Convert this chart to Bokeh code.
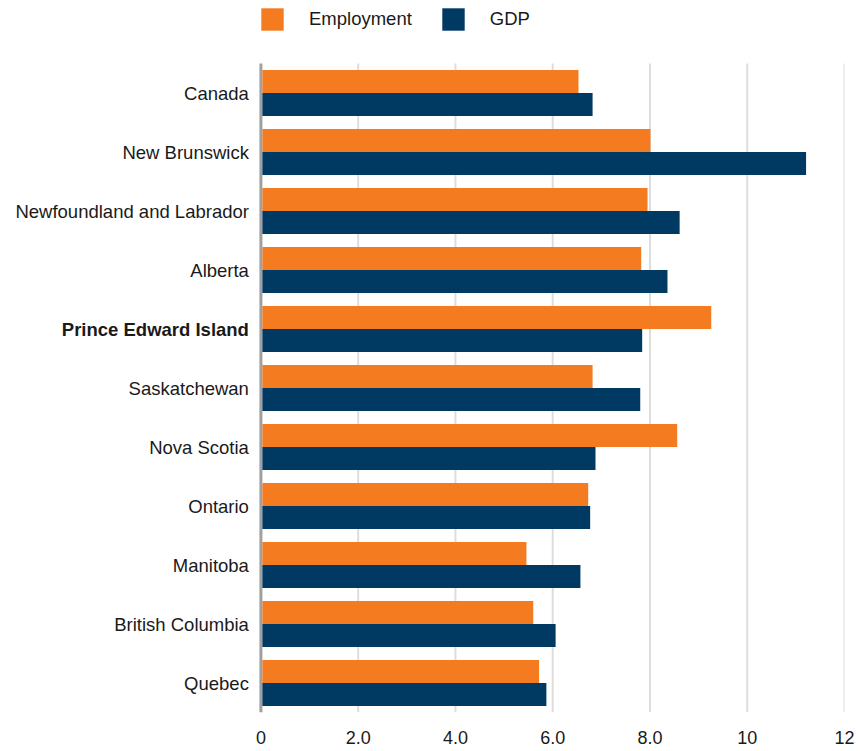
from bokeh.plotting import figure
from bokeh.models import (ColumnDataSource, FactorRange, Range1d, FixedTicker,
                          Legend, LegendItem)
from bokeh.transform import dodge
from bokeh.embed import file_html
from bokeh.resources import INLINE

regions = ["Canada", "New Brunswick", "Newfoundland and Labrador", "Alberta",
           "Prince Edward Island", "Saskatchewan", "Nova Scotia", "Ontario",
           "Manitoba", "British Columbia", "Quebec"]
employment = [6.53, 8.01, 7.95, 7.82, 9.26, 6.82, 8.56, 6.73, 5.46, 5.60, 5.72]
gdp = [6.82, 11.21, 8.61, 8.36, 7.84, 7.80, 6.88, 6.77, 6.57, 6.06, 5.87]
styles = ["bold" if r == "Prince Edward Island" else "normal" for r in regions]
x_ticks = [0, 2, 4, 6, 8, 10, 12]
x_tick_labels = ["0", "2.0", "4.0", "6.0", "8.0", "10", "12"]

ORANGE = "#F47B20"
NAVY = "#003A63"
FONT = "Liberation Sans"
LEGEND_ROW = " "   # empty band above the categories that holds the legend

src = ColumnDataSource(dict(region=regions, emp=employment, gdp=gdp,
                            zero=[0] * len(regions), style=styles))

factors = list(reversed(regions)) + [LEGEND_ROW]
p = figure(width=858, height=751, output_backend="svg", toolbar_location=None,
           y_range=FactorRange(factors=factors, range_padding=0),
           x_range=Range1d(-260.5 / 48.65, 12),
           min_border_left=0, min_border_right=14, min_border_top=4,
           min_border_bottom=39)
p.outline_line_color = None

# vertical grid lines and the zero line, spanning only the category bands
grid_src = ColumnDataSource(dict(x=x_ticks[1:],
                                 ybot=[regions[-1]] * (len(x_ticks) - 1),
                                 ytop=[regions[0]] * (len(x_ticks) - 1)))
p.segment(x0="x", x1="x", y0=dodge("ybot", -0.5, range=p.y_range),
          y1=dodge("ytop", 0.5, range=p.y_range), source=grid_src,
          line_color="#DDDDDD", line_width=2)
zero_src = ColumnDataSource(dict(x=[x_ticks[0]], ybot=[regions[-1]],
                                 ytop=[regions[0]]))
p.segment(x0="x", x1="x", y0=dodge("ybot", -0.5, range=p.y_range),
          y1=dodge("ytop", 0.5, range=p.y_range), source=zero_src,
          line_color="#A0A0A0", line_width=3)

r1 = p.hbar(y=dodge("region", 0.195, range=p.y_range), right="emp", left=0.03,
            height=0.39, source=src, color=ORANGE, line_color=None)
r2 = p.hbar(y=dodge("region", -0.195, range=p.y_range), right="gdp", left=0.03,
            height=0.39, source=src, color=NAVY, line_color=None)

p.text(x="zero", y="region", text="region", source=src, x_offset=-12,
       text_align="right", text_baseline="middle",
       text_font={"value": FONT}, text_font_size={"value": "18.5px"},
       text_font_style="style", text_color="#1A1A1A")

# x axis
p.xaxis.ticker = FixedTicker(ticks=x_ticks)
p.xaxis.major_label_overrides = {t: l for t, l in zip(x_ticks, x_tick_labels)}
p.xaxis.axis_line_color = None
p.xaxis.major_tick_line_color = None
p.xaxis.minor_tick_line_color = None
p.xaxis.major_tick_out = 0
p.xaxis.major_tick_in = 0
p.xaxis.major_label_text_font = FONT
p.xaxis.major_label_text_font_size = "18px"
p.xaxis.major_label_text_color = "#1A1A1A"
p.xaxis.major_label_standoff = 18
p.xgrid.grid_line_color = None
p.ygrid.grid_line_color = None
p.yaxis.visible = False

legend = Legend(items=[LegendItem(label="Employment", renderers=[r1]),
                       LegendItem(label="GDP", renderers=[r2])],
                orientation="horizontal", location=(258, 679),
                glyph_width=28, glyph_height=28, label_standoff=23,
                spacing=27, padding=0, margin=0, border_line_color=None,
                background_fill_alpha=0,
                label_text_font=FONT, label_text_font_size="18.5px",
                label_text_color="#1A1A1A")
p.add_layout(legend)

open("out.html", "w").write(file_html(p, INLINE))
